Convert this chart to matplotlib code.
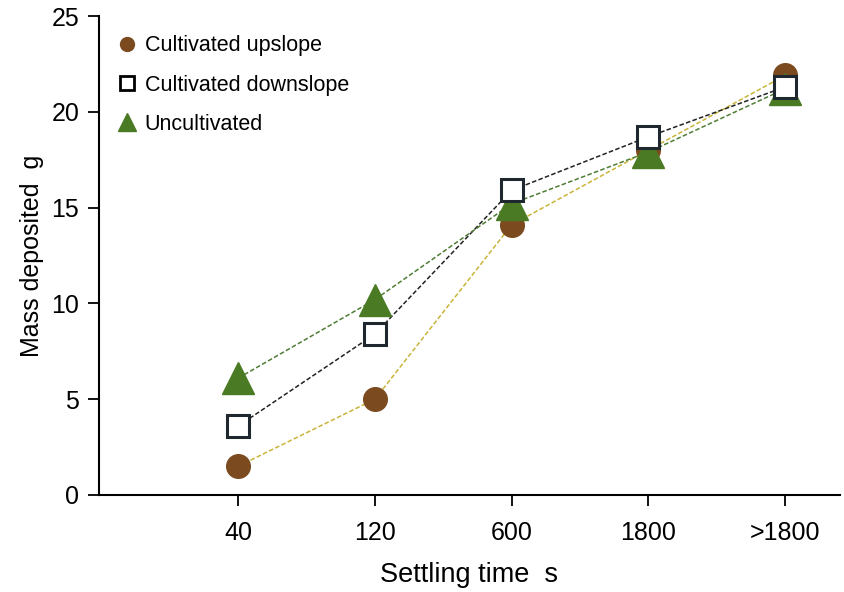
import matplotlib.pyplot as plt
from matplotlib.lines import Line2D

plt.rcParams['font.family'] = ['Liberation Sans', 'DejaVu Sans']

# data
categories = ['40', '120', '600', '1800', '>1800']
upslope = [1.5, 5.0, 14.1, 18.0, 21.9]
downslope = [3.6, 8.4, 15.9, 18.7, 21.3]
uncultivated = [6.1, 10.2, 15.2, 17.9, 21.2]

brown = '#7b4b1f'
green = '#4a7b24'
sq_edge = '#1e282e'

px = 1/100
fig = plt.figure(figsize=(844*px, 592*px), dpi=100)
ax = fig.add_axes([0.117, 0.1639, 0.878, 0.809])

x = list(range(len(categories)))

ax.plot(x, upslope, linestyle=(0, (3, 1.5)), color='#c9b43a', lw=1.1, zorder=1)
ax.plot(x, downslope, linestyle=(0, (3, 1.5)), color='#222222', lw=1.1, zorder=1)
ax.plot(x, uncultivated, linestyle=(0, (3, 1.5)), color='#4f7d35', lw=1.1, zorder=1)

ax.plot(x, upslope, 'o', ms=17, color=brown, mec=brown, zorder=2)
ax.plot(x, uncultivated, '^', ms=23, color=green, mec=green, zorder=3)
ax.plot(x, downslope, 's', ms=16.5, mfc='white', mec=sq_edge, mew=2.2, zorder=4)

ax.set_xlim(-1.02, 4.4)
ax.set_ylim(0, 25)
ax.set_xticks(x)
ax.set_xticklabels(categories)
ax.set_yticks([0, 5, 10, 15, 20, 25])

for s in ['top', 'right']:
    ax.spines[s].set_visible(False)
for s in ['left', 'bottom']:
    ax.spines[s].set_linewidth(1.5)
ax.tick_params(axis='both', labelsize=18, length=8, width=1.3)
ax.tick_params(axis='x', pad=11)
ax.tick_params(axis='y', pad=6)

ax.set_xlabel('Settling time  s', fontsize=19.5, labelpad=12)
ax.set_ylabel('Mass deposited  g', fontsize=18, labelpad=5)

handles = [
    Line2D([], [], marker='o', ls='none', ms=10, color=brown),
    Line2D([], [], marker='s', ls='none', ms=10, mfc='white', mec='black', mew=2),
    Line2D([], [], marker='^', ls='none', ms=13, color=green),
]
labels = ['Cultivated upslope', 'Cultivated downslope', 'Uncultivated']
ax.legend(handles, labels, loc='upper left', frameon=False, fontsize=15.5,
          handletextpad=0.2, handlelength=1.2, labelspacing=0.85,
          bbox_to_anchor=(-0.005, 1.0))

plt.savefig('out.png', dpi=100)
